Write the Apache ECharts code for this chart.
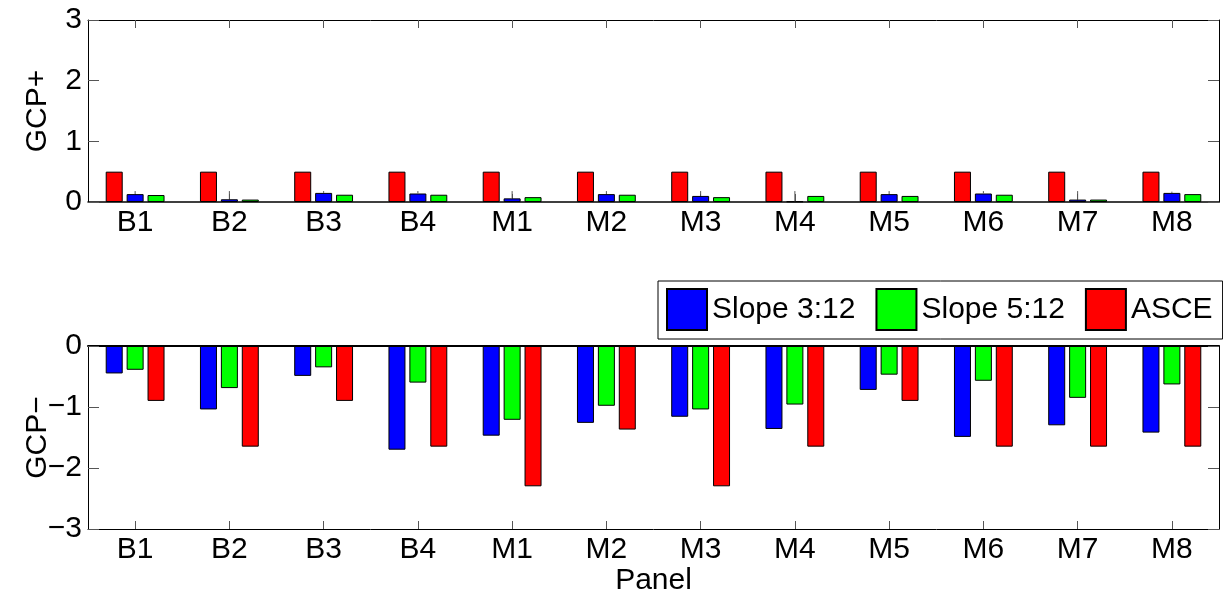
<!DOCTYPE html>
<html><head><meta charset="utf-8">
<script src="https://cdn.jsdelivr.net/npm/echarts@6/dist/echarts.min.js"></script>
<style>html,body{margin:0;padding:0;background:#fff}#c{width:1223px;height:597px}</style>
</head><body><div id="c"></div>
<script>
const categories = ['B1','B2','B3','B4','M1','M2','M3','M4','M5','M6','M7','M8'];
// GCP+ panel
const plusASCE      = [0.5,0.5,0.5,0.5,0.5,0.5,0.5,0.5,0.5,0.5,0.5,0.5];
const plusSlope312  = [0.13,0.045,0.15,0.14,0.06,0.13,0.10,0.01,0.13,0.14,0.04,0.15];
const plusSlope512  = [0.115,0.04,0.12,0.12,0.08,0.12,0.08,0.10,0.10,0.12,0.04,0.13];
const plusSlope312ErrTop = [0.18,0.18,0.18,0.18,0.18,0.18,0.18,0.18,0.18,0.18,0.18,0.17];
// GCP- panel
const minusSlope312 = [-0.45,-1.04,-0.49,-1.70,-1.47,-1.26,-1.16,-1.36,-0.72,-1.49,-1.30,-1.42];
const minusSlope512 = [-0.39,-0.69,-0.35,-0.60,-1.21,-0.98,-1.04,-0.96,-0.47,-0.57,-0.85,-0.63];
const minusASCE     = [-0.90,-1.65,-0.90,-1.65,-2.30,-1.37,-2.30,-1.65,-0.90,-1.65,-1.65,-1.65];
const seriesNames = ['Slope 3:12','Slope 5:12','ASCE'];

const FONT = 'Liberation Sans, Arial, Helvetica, sans-serif';
const FS = 30;
const colors = {'Slope 3:12':'#0000ff','Slope 5:12':'#00ff00','ASCE':'#ff0000'};
const tickStyle = {color:'#555', width:1};

function xAx(grid, pos, labels, extra){
  return Object.assign({
    gridIndex:grid, type:'category', data:categories, position:pos,
    axisLine:{show:true, onZero:false, lineStyle:{color:'#000', width:1}},
    axisTick:{show:true, alignWithLabel:true, inside:true, length:8, lineStyle:tickStyle},
    axisLabel:{show:labels, fontSize:FS, color:'#000', fontFamily:FONT, margin:6},
    splitLine:{show:false}
  }, extra||{});
}
function yAx(grid, pos, min, max, labels, extra){
  return Object.assign({
    gridIndex:grid, type:'value', min:min, max:max, interval:1, position:pos,
    axisLine:{show:true, lineStyle:{color:'#000', width:1}},
    axisTick:{show:true, inside:true, length:11, lineStyle:tickStyle},
    axisLabel:{show:labels, fontSize:FS, color:'#000', fontFamily:FONT, margin:6,
      formatter:v=>String(v).replace('-','\u2212')},
    splitLine:{show:false}
  }, extra||{});
}
function bar(name, data, xi, yi){
  return {type:'bar', name:name, data:data, xAxisIndex:xi, yAxisIndex:yi,
    barWidth:17, barGap:'23%',
    itemStyle:{color:colors[name], borderColor:'#000', borderWidth:1}};
}

const option = {
  animation:false,
  backgroundColor:'#fff',
  textStyle:{fontFamily:FONT},
  grid:[
    {left:88, right:4, top:20, height:182},
    {left:88, right:4, top:346, height:183}
  ],
  legend:{
    data:seriesNames, left:658, top:281, orient:'horizontal',
    itemWidth:40, itemHeight:41, itemGap:20, icon:'rect',
    padding:[7,10,8,8], borderColor:'#000', borderWidth:1, backgroundColor:'#fff',
    textStyle:{fontSize:FS, color:'#000', fontFamily:FONT}
  },
  xAxis:[
    xAx(0,'bottom',true,{axisLine:{show:true,onZero:false,lineStyle:{color:'#000',width:1.5}}}),
    xAx(0,'top',false),
    xAx(1,'bottom',true,{name:'Panel', nameLocation:'middle', nameGap:37, nameMoveOverlap:false,
      nameTextStyle:{fontSize:FS, color:'#000', fontFamily:FONT}}),
    xAx(1,'top',false,{axisLine:{show:true,onZero:false,lineStyle:{color:'#000',width:2}}})
  ],
  yAxis:[
    yAx(0,'left',0,3,true,{name:'GCP+', nameLocation:'middle', nameGap:35, nameRotate:90, nameMoveOverlap:false,
      nameTextStyle:{fontSize:FS, color:'#000', fontFamily:FONT}}),
    yAx(0,'right',0,3,false),
    yAx(1,'left',-3,0,true,{name:'GCP\u2212', nameLocation:'middle', nameGap:35, nameRotate:90, nameMoveOverlap:false,
      nameTextStyle:{fontSize:FS, color:'#000', fontFamily:FONT}}),
    yAx(1,'right',-3,0,false)
  ],
  series:[
    bar('ASCE', plusASCE, 0, 0),
    bar('Slope 3:12', plusSlope312, 0, 0),
    bar('Slope 5:12', plusSlope512, 0, 0),
    {type:'custom', name:'err', xAxisIndex:0, yAxisIndex:0, z:5,
      data:categories.map((c,i)=>[i, plusSlope312[i], plusSlope312ErrTop[i]]),
      encode:{x:0, y:[1,2]},
      renderItem:function(params, api){
        const p1 = api.coord([api.value(0), api.value(1)]);
        const p2 = api.coord([api.value(0), api.value(2)]);
        return {type:'line', shape:{x1:p1[0], y1:p1[1], x2:p2[0], y2:p2[1]},
          style:{stroke:'#555', lineWidth:1}};
      }},
    bar('Slope 3:12', minusSlope312, 2, 2),
    bar('Slope 5:12', minusSlope512, 2, 2),
    bar('ASCE', minusASCE, 2, 2)
  ]
};
const chart = echarts.init(document.getElementById('c'), null, {renderer:'canvas'});
chart.setOption(option);
</script>
</body></html>
